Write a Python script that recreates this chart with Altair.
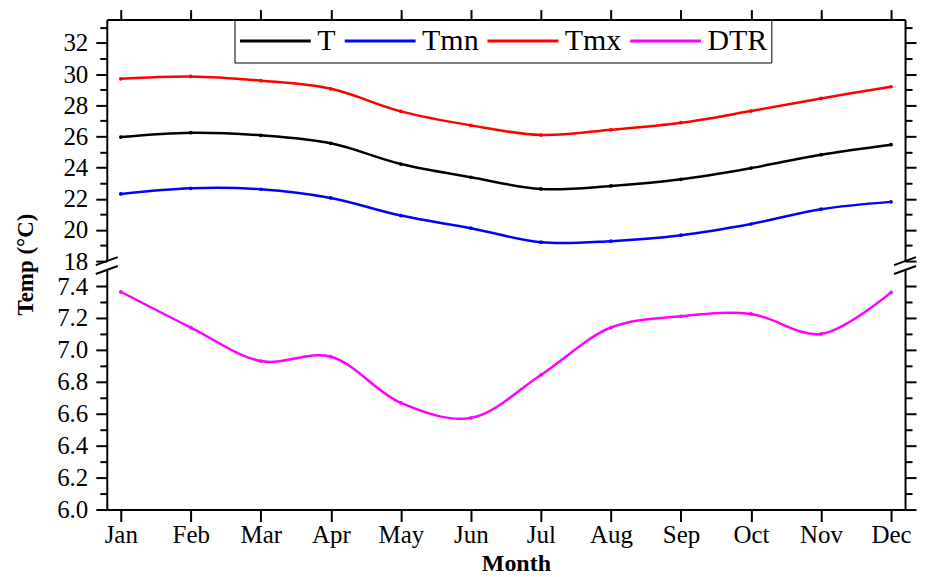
import altair as alt
import pandas as pd

months = ["Jan", "Feb", "Mar", "Apr", "May", "Jun", "Jul", "Aug", "Sep", "Oct", "Nov", "Dec"]
T   = [25.96, 26.24, 26.07, 25.56, 24.23, 23.38, 22.63, 22.82, 23.25, 23.97, 24.83, 25.47]
Tmn = [22.31, 22.67, 22.61, 22.05, 20.92, 20.11, 19.21, 19.28, 19.66, 20.38, 21.33, 21.80]
Tmx = [29.70, 29.85, 29.58, 29.06, 27.61, 26.71, 26.09, 26.43, 26.88, 27.63, 28.44, 29.19]
DTR = [7.364, 7.14, 6.93, 6.957, 6.668, 6.574, 6.843, 7.14, 7.21, 7.225, 7.10, 7.36]

series_names = ["T", "Tmn", "Tmx", "DTR"]
series_colors = ["#000000", "#0000ff", "#ff0000", "#ff00ff"]

top_ticks = list(range(18, 34))
bottom_ticks = [6.0, 6.1, 6.2, 6.3, 6.4, 6.5, 6.6, 6.7, 6.8, 6.9, 7.0, 7.1, 7.2, 7.3, 7.4]

FONT = "Liberation Serif"

top_rows = []
for name, vals in (("T", T), ("Tmn", Tmn), ("Tmx", Tmx)):
    for m, v in zip(months, vals):
        top_rows.append({"month": m, "series": name, "value": v})
top_df = pd.DataFrame(top_rows)
bot_df = pd.DataFrame({"month": months, "series": "DTR", "value": DTR})

color_scale = alt.Scale(domain=series_names, range=series_colors)
x_scale = alt.Scale(type="point", padding=0.2)

legend = alt.Legend(
    title=None, orient="none", legendX=128, legendY=0, direction="horizontal", columns=4,
    symbolType="stroke", symbolSize=5041, symbolStrokeWidth=3, clipHeight=35,
    padding=4, strokeColor="black", labelFont=FONT, labelFontSize=30, labelColor="black",
    labelOffset=5, columnPadding=7, labelLimit=300,
)

def yaxis(orient, values, major_test, labels, title=None, **kw):
    args = dict(
        orient=orient, values=values, grid=False, domainColor="black", domainWidth=2,
        tickColor="black", tickWidth=2,
        tickSize={"condition": {"test": major_test, "value": 11}, "value": 7},
        labels=labels,
    )
    if labels:
        args.update(labelFont=FONT, labelFontSize=25, labelColor="black", labelPadding=8,
                    labelExpr=f"({major_test}) ? datum.label : ''")
    if title:
        args.update(title=title, titleFont=FONT, titleFontSize=23, titleFontWeight="bold",
                    titleColor="black", titleAngle=270, titleAlign="center", titleBaseline="middle")
    else:
        args.update(title=None)
    args.update(kw)
    return alt.Axis(**args)

top_x_axis = alt.Axis(orient="top", labels=False, title=None, grid=False, tickSize=10,
                      tickWidth=2, tickColor="black", domainColor="black", domainWidth=2)

top_test = "datum.value % 2 === 0"
bot_test = "round(datum.value * 10) % 2 === 0"

top_y_scale = alt.Scale(domain=[18, 33.5], nice=False, zero=False)
bot_y_scale = alt.Scale(domain=[6.0, 7.5], nice=False, zero=False)

top_lines = alt.Chart(top_df).mark_line(interpolate="catmull-rom", strokeWidth=2.5).encode(
    x=alt.X("month:N", sort=months, scale=x_scale, axis=top_x_axis),
    y=alt.Y("value:Q", scale=top_y_scale,
            axis=yaxis("left", top_ticks, top_test, True, "Temp (°C)", titleX=-81, titleY=245, format="d")),
    color=alt.Color("series:N", scale=color_scale, legend=legend),
)
top_pts = alt.Chart(top_df).mark_point(filled=True, size=14, opacity=1, shape="circle").encode(
    x=alt.X("month:N", sort=months, scale=x_scale, axis=top_x_axis),
    y=alt.Y("value:Q", scale=top_y_scale, axis=yaxis("right", top_ticks, top_test, False)),
    color=alt.Color("series:N", scale=color_scale, legend=legend),
)
top = alt.layer(top_lines, top_pts).resolve_axis(y="independent").properties(width=800, height=242)

bot_x_axis = alt.Axis(orient="bottom", grid=False, tickSize=12, tickWidth=2, tickColor="black",
                      domainColor="black", domainWidth=2, labelFont=FONT, labelFontSize=25,
                      labelColor="black", labelPadding=1, labelAngle=0,
                      title="Month", titleFont=FONT, titleFontSize=24, titleFontWeight="bold",
                      titleColor="black", titlePadding=4, titleX=410)

bot_lines = alt.Chart(bot_df).mark_line(interpolate="catmull-rom", strokeWidth=2.5).encode(
    x=alt.X("month:N", sort=months, scale=x_scale, axis=bot_x_axis),
    y=alt.Y("value:Q", scale=bot_y_scale,
            axis=yaxis("left", bottom_ticks, bot_test, True, format=".1f")),
    color=alt.Color("series:N", scale=color_scale, legend=legend),
)
bot_pts = alt.Chart(bot_df).mark_point(filled=True, size=14, opacity=1, shape="circle").encode(
    x=alt.X("month:N", sort=months, scale=x_scale, axis=bot_x_axis),
    y=alt.Y("value:Q", scale=bot_y_scale, axis=yaxis("right", bottom_ticks, bot_test, False)),
    color=alt.Color("series:N", scale=color_scale, legend=legend),
)

# axis-break marks
brk = []
for xc in (0, 800):
    for yc in (-9, 0):
        brk.append(alt.Chart(bot_df.head(1)).mark_rule(color="black", strokeWidth=2).encode(
            x=alt.value(xc - 11), x2=alt.value(xc + 11),
            y=alt.value(yc + 4), y2=alt.value(yc - 4)))

bottom = alt.layer(bot_lines, bot_pts, *brk).resolve_axis(y="independent").properties(width=800, height=240)

chart = alt.vconcat(top, bottom, spacing=9, bounds="flush").configure_view(stroke=None).properties(
    padding={"left": 7, "top": 0, "right": 5, "bottom": 5}, background="white")

chart.save("out.html", embed_options={"renderer": "svg", "actions": False})
